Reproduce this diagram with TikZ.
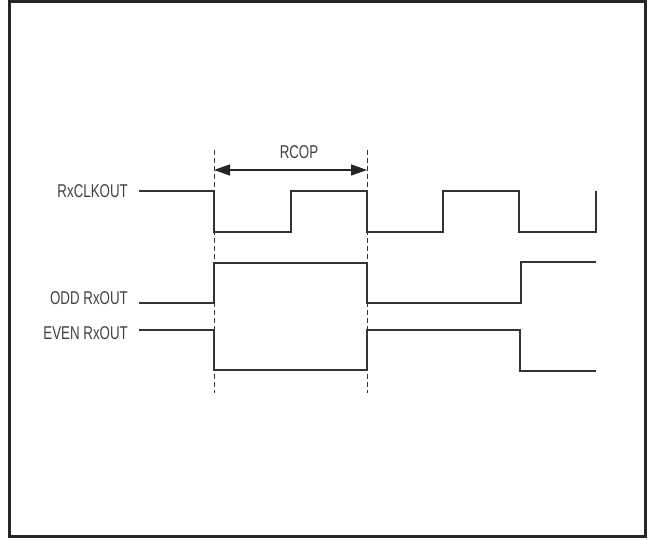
\documentclass[tikz,border=0pt]{standalone}
\usepackage{fontspec}
\setmainfont{Liberation Sans}[FakeStretch=0.72]
\usetikzlibrary{arrows.meta}

\begin{document}
\begin{tikzpicture}[x=1pt, y=-1pt,
  wave/.style={line width=1.6pt, draw=black!80, line join=miter},
  guide/.style={dash pattern=on 5pt off 3pt, line width=0.8pt, draw=black!80},
  sig/.style={anchor=east, inner sep=0pt, font=\fontsize{18.5}{18.5}\selectfont, text=black!75},
  tip/.tip={Triangle[length=16pt, width=11pt]}]
  \useasboundingbox (0,0) rectangle (648,540);
  \draw[line width=3pt, black!85] (9,2) rectangle (645.5,536.5);

  % the two dashed guides
  \foreach \n/\x in {a/214, b/367}
  {
    \coordinate (top-\n) at (\x,150);
    \coordinate (bot-\n) at (\x,393);
    \coordinate (arr-\n) at (\x,170);
    \draw[guide] (top-\n) -- (bot-\n);
  }

  \node[sig] (clk) at (128,191) {RxCLKOUT};
  \node[sig] (odd) at (128,298) {ODD RxOUT};
  \node[sig] (even) at (128,333) {EVEN RxOUT};
  \node[sig, anchor=center] (rcop) at (299,152) {RCOP};

  \draw[tip-tip, line width=1.5pt, black!85] (arr-a) -- (arr-b);

  % waveforms
  \draw[wave] (139,191) -- (214,191) -- (214,232) -- (291,232) -- (291,191)
    -- (367,191) -- (367,232) -- (443,232) -- (443,191) -- (519,191)
    -- (519,232) -- (596,232) -- (596,191);
  \draw[wave] (139,303) -- (214,303) -- (214,263) -- (367,263) -- (367,303)
    -- (521,303) -- (521,262) -- (596,262);
  \draw[wave] (139,330) -- (214,330) -- (214,370) -- (367,370) -- (367,330)
    -- (520,330) -- (520,371) -- (596,371);
\end{tikzpicture}
\end{document}
